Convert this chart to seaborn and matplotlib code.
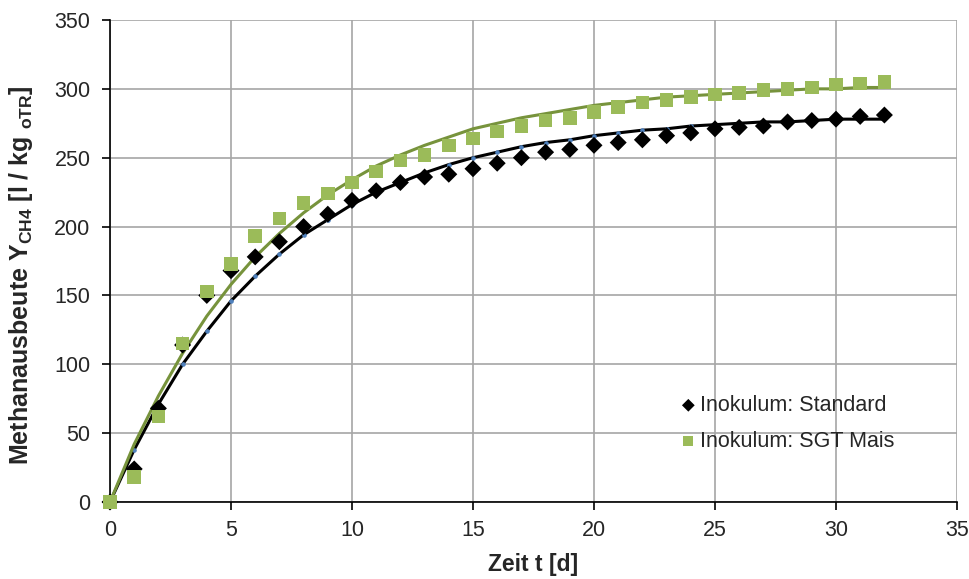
import matplotlib
matplotlib.use("Agg")
import matplotlib.pyplot as plt
import pandas as pd
import numpy as np
import seaborn as sns

# measured days
days = list(range(0, 33))

# measured methane yield [l / kg oTR]
standard = [0, 24, 68, 114, 150, 168, 178, 189, 200, 209, 219, 226, 232, 236, 238, 242,
            246, 250, 254, 256, 259, 261, 263, 266, 268, 271, 272, 273, 276, 277, 278, 280, 281]
sgt_mais = [0, 18, 62, 115, 153, 173, 193, 206, 217, 224, 232, 240, 248, 252, 259, 264,
            269, 273, 277, 279, 283, 287, 290, 292, 294, 296, 297, 299, 300, 301, 303, 304, 305]

# fitted curves (same days)
fit_standard = [0, 38, 71, 100, 124, 146, 164, 180, 194, 205, 216, 225, 232, 239, 245, 250,
                254, 258, 261, 263, 266, 268, 270, 271, 273, 274, 275, 276, 276, 277, 278, 278, 278]
fit_sgt_mais = [0, 42, 77, 108, 135, 158, 178, 195, 210, 223, 234, 244, 252, 259, 265, 271,
                275, 279, 282, 285, 288, 290, 292, 294, 295, 296, 297, 298, 299, 300, 300, 301, 301]

labels = ["Inokulum: Standard", "Inokulum: SGT Mais"]

sns.set_style("white")
plt.rcParams['font.family'] = ['Liberation Sans', 'DejaVu Sans']
plt.rcParams['mathtext.fontset'] = 'custom'
plt.rcParams['mathtext.rm'] = 'Liberation Sans:bold'
plt.rcParams['mathtext.bf'] = 'Liberation Sans:bold'

fig = plt.figure(figsize=(9.7, 5.79), dpi=100)
ax = fig.add_axes([110/970, 1-502/579, (957-110)/970, (502-20)/579])

df = pd.DataFrame({"t": days, "std": standard, "sgt": sgt_mais,
                   "fstd": fit_standard, "fsgt": fit_sgt_mais})

sns.lineplot(data=df, x="t", y="fstd", ax=ax, color="black", lw=2.2, zorder=3,
             marker="o", markersize=2.5, markerfacecolor="#4F81BD", markeredgecolor="#4F81BD")
sns.lineplot(data=df, x="t", y="fsgt", ax=ax, color="#77933C", lw=2.2, zorder=3)

sns.scatterplot(data=df, x="t", y="std", ax=ax, marker="D", s=75, color="black",
                edgecolor="none", zorder=4, label=labels[0], clip_on=False)
sns.scatterplot(data=df, x="t", y="sgt", ax=ax, marker="s", s=95, color="#9BBB59",
                edgecolor="none", zorder=5, label=labels[1], clip_on=False)

ax.set_xlim(0, 35)
ax.set_ylim(0, 350)
ax.set_xticks(np.arange(0, 36, 5))
ax.set_yticks(np.arange(0, 351, 50))
ax.grid(True, color="#a6a6a6", lw=1.2)
ax.set_axisbelow(True)
for s in ["top", "right"]:
    ax.spines[s].set_visible(False)
for s in ["left", "bottom"]:
    ax.spines[s].set_color("black")
    ax.spines[s].set_linewidth(1.2)
ax.tick_params(axis="both", direction="out", length=6, width=1.2, color="black",
               labelsize=15.5, left=True, bottom=True)
ax.tick_params(axis="x", pad=7)
ax.tick_params(axis="y", pad=8)

ax.set_xlabel("Zeit t [d]", fontsize=16.5, fontweight="bold")
ax.set_ylabel(r"Methanausbeute Y$_{\mathbf{CH4}}$ [l / kg $_{\mathbf{oTR}}$]",
              fontsize=18, fontweight="bold")
ax.xaxis.set_label_coords(0.5, -0.105)
ax.yaxis.set_label_coords(-0.088, 0.47)

leg = ax.legend(loc="upper left", bbox_to_anchor=(0.665, 0.24), frameon=False,
                fontsize=15.5, handletextpad=0.25, labelspacing=0.7, handlelength=0.6,
                markerscale=0.75, borderaxespad=0)

fig.savefig("out.png", dpi=100)
